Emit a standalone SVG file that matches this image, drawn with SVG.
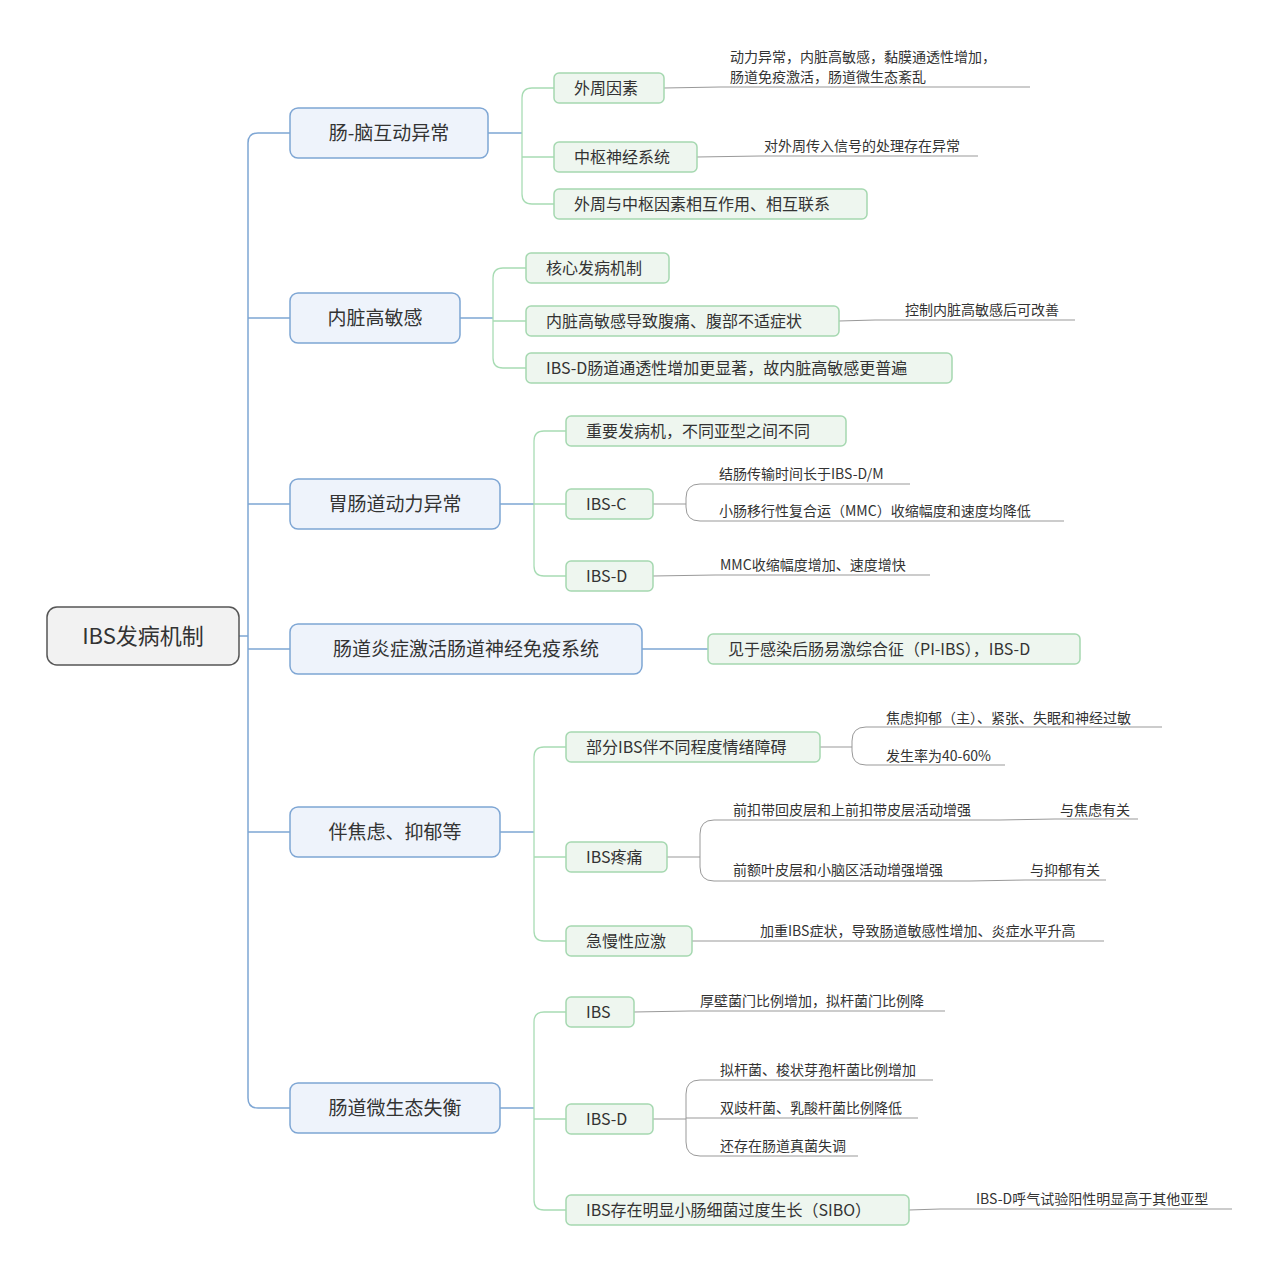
<svg xmlns="http://www.w3.org/2000/svg" width="1280" height="1273" viewBox="0 0 1280 1273">
<style>
text{font-family:"Noto Sans CJK SC","Noto Sans",sans-serif;fill:#333}
.root{fill:#f2f2f2;stroke:#555;stroke-width:1.5}
.b{fill:#eef3fb;stroke:#7ea6d4;stroke-width:1.5}
.g{fill:#eef6ef;stroke:#a5d8b0;stroke-width:1.5}
.bl{fill:none;stroke:#7ea6d4;stroke-width:1.5}
.gl{fill:none;stroke:#a8dcb4;stroke-width:1.3}
.ll{fill:none;stroke:#999;stroke-width:1}
.t1{font-size:19px;text-anchor:middle}
.t2{font-size:16px}
.t3{font-size:14px}
</style>
<g id="connectors">
<path class="bl" d="M239,636 H248 M290,133 H258 Q248,133 248,143 V1098 Q248,1108 258,1108 H290 M248,318 H290 M248,504 H290 M248,649 H290 M248,832 H290"/>
<path class="bl" d="M488,133 H522 M460,318 H493 M500,504 H534 M642,649 H708 M500,832 H534 M500,1108 H534"/>
<path class="gl" d="M554,88 H532 Q522,88 522,98 V194 Q522,204 532,204 H554 M522,157 H554"/>
<path class="gl" d="M526,268 H503 Q493,268 493,278 V358 Q493,368 503,368 H526 M493,321 H526"/>
<path class="gl" d="M566,431 H544 Q534,431 534,441 V566 Q534,576 544,576 H566 M534,504 H566"/>
<path class="gl" d="M566,747 H544 Q534,747 534,757 V931 Q534,941 544,941 H566 M534,857 H566"/>
<path class="gl" d="M566,1012 H544 Q534,1012 534,1022 V1200 Q534,1210 544,1210 H566 M534,1119 H566"/>
<path class="ll" d="M664,88 L720,87 H1030 M697,157 L760,156 H978 M839,321 L875,320 H1075"/>
<path class="ll" d="M653,504 H686 M700,484 Q686,484 686,498 V507 Q686,521 700,521 M700,484 L710,484 H910 M700,521 L710,521 H1064 M653,576 L715,575 H930"/>
<path class="ll" d="M820,747 H852 M866,727 Q852,727 852,741 V751 Q852,765 866,765 M866,727 H1162 M866,765 H1005"/>
<path class="ll" d="M667,857 H700 M714,820 Q700,820 700,834 V867 Q700,881 714,881 M714,820 H1000 L1055,819 H1138 M714,881 H970 L1025,880 H1106"/>
<path class="ll" d="M692,941 L750,941 H1104 M634,1012 L690,1011 H945"/>
<path class="ll" d="M653,1119 H686 M700,1080 Q686,1080 686,1094 V1142 Q686,1156 700,1156 M686,1118 H918 M700,1080 H933 M700,1156 H858 M909,1210 L940,1209 H1232"/>
</g>
<g id="root"><rect class="root" x="47" y="607" width="192" height="58" rx="10"/><text class="t1" style="font-size:22px" x="143" y="644">IBS发病机制</text></g>
<g id="n1"><rect class="b" x="290" y="108" width="198" height="50" rx="8"/><text class="t1" x="389" y="140">肠-脑互动异常</text></g>
<g id="n2"><rect class="b" x="290" y="293" width="170" height="50" rx="8"/><text class="t1" x="375" y="325">内脏高敏感</text></g>
<g id="n3"><rect class="b" x="290" y="479" width="210" height="50" rx="8"/><text class="t1" x="395" y="511">胃肠道动力异常</text></g>
<g id="n4"><rect class="b" x="290" y="624" width="352" height="50" rx="8"/><text class="t1" x="466" y="656">肠道炎症激活肠道神经免疫系统</text></g>
<g id="n5"><rect class="b" x="290" y="807" width="210" height="50" rx="8"/><text class="t1" x="395" y="839">伴焦虑、抑郁等</text></g>
<g id="n6"><rect class="b" x="290" y="1083" width="210" height="50" rx="8"/><text class="t1" x="395" y="1115">肠道微生态失衡</text></g>
<g id="n1a"><rect class="g" x="554" y="73" width="110" height="30" rx="5"/><text class="t2" x="574" y="94">外周因素</text></g>
<g id="n1b"><rect class="g" x="554" y="142" width="143" height="30" rx="5"/><text class="t2" x="574" y="163">中枢神经系统</text></g>
<g id="n1c"><rect class="g" x="554" y="189" width="313" height="30" rx="5"/><text class="t2" x="574" y="210">外周与中枢因素相互作用、相互联系</text></g>
<g id="n2a"><rect class="g" x="526" y="253" width="143" height="30" rx="5"/><text class="t2" x="546" y="274">核心发病机制</text></g>
<g id="n2b"><rect class="g" x="526" y="306" width="313" height="30" rx="5"/><text class="t2" x="546" y="327">内脏高敏感导致腹痛、腹部不适症状</text></g>
<g id="n2c"><rect class="g" x="526" y="353" width="426" height="30" rx="5"/><text class="t2" x="546" y="374">IBS-D肠道通透性增加更显著，故内脏高敏感更普遍</text></g>
<g id="n3a"><rect class="g" x="566" y="416" width="280" height="30" rx="5"/><text class="t2" x="586" y="437">重要发病机，不同亚型之间不同</text></g>
<g id="n3b"><rect class="g" x="566" y="489" width="87" height="30" rx="5"/><text class="t2" x="586" y="510">IBS-C</text></g>
<g id="n3c"><rect class="g" x="566" y="561" width="87" height="30" rx="5"/><text class="t2" x="586" y="582">IBS-D</text></g>
<g id="n4a"><rect class="g" x="708" y="634" width="372" height="30" rx="5"/><text class="t2" x="728" y="655">见于感染后肠易激综合征（PI-IBS），IBS-D</text></g>
<g id="n5a"><rect class="g" x="566" y="732" width="254" height="30" rx="5"/><text class="t2" x="586" y="753">部分IBS伴不同程度情绪障碍</text></g>
<g id="n5b"><rect class="g" x="566" y="842" width="101" height="30" rx="5"/><text class="t2" x="586" y="863">IBS疼痛</text></g>
<g id="n5c"><rect class="g" x="566" y="926" width="126" height="30" rx="5"/><text class="t2" x="586" y="947">急慢性应激</text></g>
<g id="n6a"><rect class="g" x="566" y="997" width="68" height="30" rx="5"/><text class="t2" x="586" y="1018">IBS</text></g>
<g id="n6b"><rect class="g" x="566" y="1104" width="87" height="30" rx="5"/><text class="t2" x="586" y="1125">IBS-D</text></g>
<g id="n6c"><rect class="g" x="566" y="1195" width="343" height="30" rx="5"/><text class="t2" x="586" y="1216">IBS存在明显小肠细菌过度生长（SIBO）</text></g>
<g id="leaves" class="t3">
<text class="t3" x="730" y="62">动力异常，内脏高敏感，黏膜通透性增加，</text>
<text class="t3" x="730" y="82">肠道免疫激活，肠道微生态紊乱</text>
<text class="t3" x="764" y="151">对外周传入信号的处理存在异常</text>
<text class="t3" x="905" y="315">控制内脏高敏感后可改善</text>
<text class="t3" x="719" y="479">结肠传输时间长于IBS-D/M</text>
<text class="t3" x="719" y="516">小肠移行性复合运（MMC）收缩幅度和速度均降低</text>
<text class="t3" x="720" y="570">MMC收缩幅度增加、速度增快</text>
<text class="t3" x="886" y="723">焦虑抑郁（主）、紧张、失眠和神经过敏</text>
<text class="t3" x="886" y="761">发生率为40-60%</text>
<text class="t3" x="733" y="815">前扣带回皮层和上前扣带皮层活动增强</text>
<text class="t3" x="1060" y="815">与焦虑有关</text>
<text class="t3" x="733" y="875">前额叶皮层和小脑区活动增强增强</text>
<text class="t3" x="1030" y="875">与抑郁有关</text>
<text class="t3" x="760" y="936">加重IBS症状，导致肠道敏感性增加、炎症水平升高</text>
<text class="t3" x="700" y="1006">厚壁菌门比例增加，拟杆菌门比例降</text>
<text class="t3" x="720" y="1075">拟杆菌、梭状芽孢杆菌比例增加</text>
<text class="t3" x="720" y="1113">双歧杆菌、乳酸杆菌比例降低</text>
<text class="t3" x="720" y="1151">还存在肠道真菌失调</text>
<text class="t3" x="976" y="1204">IBS-D呼气试验阳性明显高于其他亚型</text>
</g>
</svg>
